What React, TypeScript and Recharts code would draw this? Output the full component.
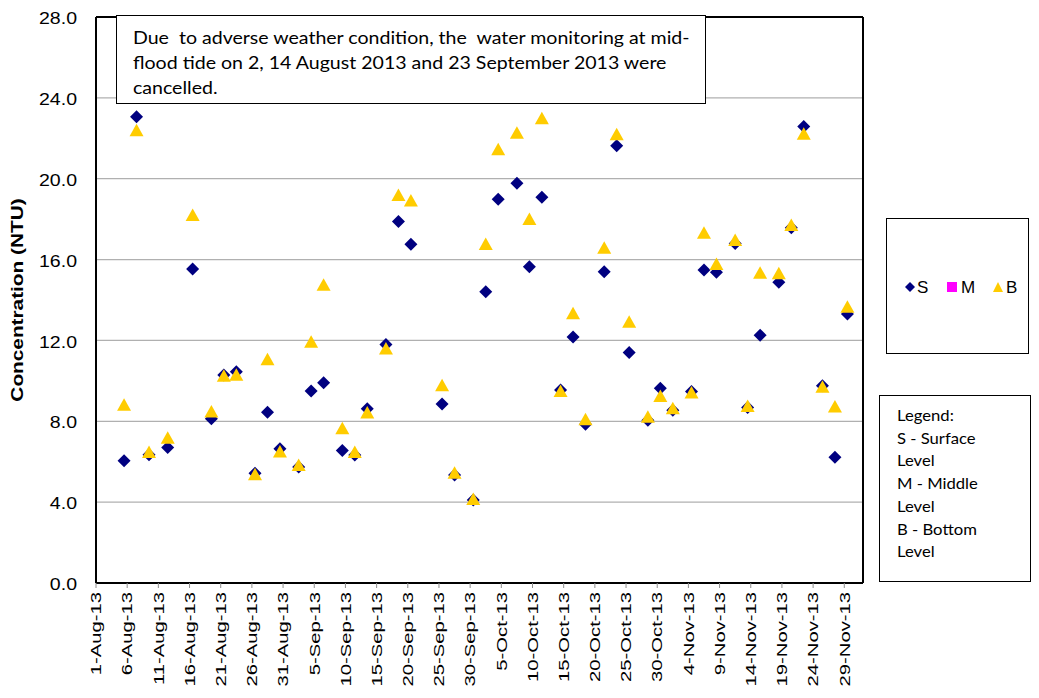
import React from "react";
import {
  CartesianGrid,
  ReferenceLine,
  Scatter,
  ScatterChart,
  XAxis,
  YAxis,
} from "recharts";

// sampling dates (missing days were cancelled)
const sampleDates = [
  "5-Aug-13", "7-Aug-13", "9-Aug-13", "12-Aug-13", "16-Aug-13", "19-Aug-13",
  "21-Aug-13", "23-Aug-13", "26-Aug-13", "28-Aug-13", "30-Aug-13", "2-Sep-13",
  "4-Sep-13", "6-Sep-13", "9-Sep-13", "11-Sep-13", "13-Sep-13", "16-Sep-13",
  "18-Sep-13", "20-Sep-13", "25-Sep-13", "27-Sep-13", "30-Sep-13", "2-Oct-13",
  "4-Oct-13", "7-Oct-13", "9-Oct-13", "11-Oct-13", "14-Oct-13", "16-Oct-13",
  "18-Oct-13", "21-Oct-13", "23-Oct-13", "25-Oct-13", "28-Oct-13", "30-Oct-13",
  "1-Nov-13", "4-Nov-13", "6-Nov-13", "8-Nov-13", "11-Nov-13", "13-Nov-13",
  "15-Nov-13", "18-Nov-13", "20-Nov-13", "22-Nov-13", "25-Nov-13", "27-Nov-13",
  "29-Nov-13",
];

const surface = [
  6.05, 23.07, 6.35, 6.7, 15.53, 8.12, 10.29, 10.45, 5.43, 8.45, 6.64, 5.74,
  9.5, 9.91, 6.56, 6.33, 8.62, 11.8, 17.88, 16.76, 8.86, 5.34, 4.1, 14.41,
  18.98, 19.78, 15.65, 19.08, 9.55, 12.17, 7.85, 15.4, 21.63, 11.4, 8.05, 9.63,
  8.55, 9.47, 15.49, 15.37, 16.8, 8.68, 12.26, 14.88, 17.58, 22.58, 9.76, 6.22,
  13.31,
];

const bottom = [
  8.82, 22.4, 6.48, 7.19, 18.2, 8.48, 10.25, 10.3, 5.38, 11.07, 6.5, 5.84,
  11.94, 14.75, 7.65, 6.48, 8.43, 11.6, 19.2, 18.92, 9.78, 5.46, 4.16, 16.77,
  21.46, 22.28, 18.01, 22.99, 9.5, 13.35, 8.1, 16.58, 22.2, 12.93, 8.23, 9.25,
  8.64, 9.43, 17.33, 15.78, 16.97, 8.76, 15.35, 15.32, 17.71, 22.22, 9.71, 8.73,
  13.67,
];

const tickLabels = [
  "1-Aug-13", "6-Aug-13", "11-Aug-13", "16-Aug-13", "21-Aug-13", "26-Aug-13",
  "31-Aug-13", "5-Sep-13", "10-Sep-13", "15-Sep-13", "20-Sep-13", "25-Sep-13",
  "30-Sep-13", "5-Oct-13", "10-Oct-13", "15-Oct-13", "20-Oct-13", "25-Oct-13",
  "30-Oct-13", "4-Nov-13", "9-Nov-13", "14-Nov-13", "19-Nov-13", "24-Nov-13",
  "29-Nov-13",
];

const yTicks = [0, 4, 8, 12, 16, 20, 24, 28];

const MONTHS = ["Jan", "Feb", "Mar", "Apr", "May", "Jun", "Jul", "Aug", "Sep", "Oct", "Nov", "Dec"];
const START = Date.UTC(2013, 7, 1);
const END_DAY = 123; // axis runs to 2-Dec

function dayOf(label: string) {
  const [d, m] = label.split("-");
  return (Date.UTC(2013, MONTHS.indexOf(m), Number(d)) - START) / 86400000;
}

const tickDays = tickLabels.map(dayOf);
const labelByDay: Record<number, string> = {};
tickLabels.forEach((l, i) => (labelByDay[tickDays[i]] = l));

// Excel puts each point in the middle of its day slot
const sData = sampleDates.map((d, i) => ({ x: dayOf(d) + 0.5, y: surface[i] }));
const bData = sampleDates.map((d, i) => ({ x: dayOf(d) + 0.5, y: bottom[i] }));

const NAVY = "#000080";
const GOLD = "#FFCC00";
const MAGENTA = "#FF00FF";
const ARIAL = "'Liberation Sans', Arial, sans-serif";
const CALIBRI = "Lato, 'Noto Sans', sans-serif";

const DiamondShape = (p: any) => (
  <polygon
    points={`${p.cx},${p.cy - 6.5} ${p.cx + 6.5},${p.cy} ${p.cx},${p.cy + 6.5} ${p.cx - 6.5},${p.cy}`}
    fill={NAVY}
  />
);

const TriangleShape = (p: any) => (
  <polygon
    points={`${p.cx},${p.cy - 6.5} ${p.cx + 7},${p.cy + 6} ${p.cx - 7},${p.cy + 6}`}
    fill={GOLD}
  />
);

const XTick = (p: any) => (
  <text
    transform={`translate(${p.x},${p.y + 2}) rotate(-90) scale(1.35,1)`}
    textAnchor="end"
    dy="0.35em"
    fontSize={15}
    fontFamily={ARIAL}
    fill="#000"
  >
    {labelByDay[p.payload.value]}
  </text>
);

const YTick = (p: any) => (
  <text
    transform={`translate(77,${p.y + 1}) scale(1.15,1)`}
    textAnchor="end"
    dy="0.36em"
    fontSize={17}
    fontFamily={ARIAL}
    fill="#000"
  >
    {p.payload.value.toFixed(1)}
  </text>
);

const YLabel = () => (
  <text
    transform="translate(17,300) rotate(-90) scale(1.3,1)"
    textAnchor="middle"
    dy="0.35em"
    fontSize={16}
    fontWeight="bold"
    fontFamily={ARIAL}
    fill="#000"
  >
    Concentration (NTU)
  </text>
);

export default function App() {
  return (
    <div style={{ position: "absolute", left: 0, top: 0, width: 1039, height: 698, background: "#fff" }}>
      <ScatterChart width={1039} height={698} margin={{ top: 17, right: 176, bottom: 0, left: 0 }}>
        <CartesianGrid vertical={false} stroke="#b0b0b0" strokeWidth={1.2} />
        <XAxis
          type="number"
          dataKey="x"
          domain={[0, END_DAY]}
          ticks={tickDays}
          interval={0}
          height={115}
          tickSize={5}
          tickLine={{ stroke: "#8c8c8c" }}
          axisLine={{ stroke: "#000", strokeWidth: 2 }}
          tick={<XTick />}
        />
        <YAxis
          type="number"
          dataKey="y"
          domain={[0, 28]}
          ticks={yTicks}
          width={96}
          tickLine={false}
          axisLine={{ stroke: "#000", strokeWidth: 2 }}
          tick={<YTick />}
          label={<YLabel />}
        />
        <ReferenceLine y={28} stroke="#000" strokeWidth={2} />
        <ReferenceLine x={END_DAY} stroke="#000" strokeWidth={2} />
        <Scatter name="S" data={sData} shape={DiamondShape} isAnimationActive={false} />
        <Scatter name="B" data={bData} shape={TriangleShape} isAnimationActive={false} />
      </ScatterChart>

      {/* note box */}
      <div
        style={{
          position: "absolute",
          left: 116,
          top: 15,
          width: 590,
          height: 89,
          border: "1.5px solid #000",
          background: "#fff",
          boxSizing: "border-box",
          fontFamily: CALIBRI,
          fontSize: 17,
          lineHeight: "25px",
          padding: "9px 0 0 16px",
          whiteSpace: "pre",
          color: "#000",
        }}
      >
        <div style={{ transform: "scaleX(1.15)", transformOrigin: "left top" }}>
          {"Due  to adverse weather condition, the  water monitoring at mid-\nflood tide on 2, 14 August 2013 and 23 September 2013 were\ncancelled."}
        </div>
      </div>

      {/* series legend */}
      <div
        style={{
          position: "absolute",
          left: 886,
          top: 218,
          width: 143,
          height: 136,
          border: "1.5px solid #000",
          boxSizing: "border-box",
          background: "#fff",
        }}
      >
        <svg width={140} height={133} style={{ display: "block" }}>
          <polygon points="23,63 28,68 23,73 18,68" fill={NAVY} />
          <text x={30} y={74} fontSize={17} fontFamily={ARIAL}>S</text>
          <rect x={60} y={63} width={10} height={10} fill={MAGENTA} />
          <text x={74} y={74} fontSize={17} fontFamily={ARIAL}>M</text>
          <polygon points="111,63 116,73 106,73" fill={GOLD} />
          <text x={119} y={74} fontSize={17} fontFamily={ARIAL}>B</text>
        </svg>
      </div>

      {/* level legend */}
      <div
        style={{
          position: "absolute",
          left: 879,
          top: 395,
          width: 152,
          height: 187,
          border: "1.5px solid #000",
          boxSizing: "border-box",
          background: "#fff",
          fontFamily: CALIBRI,
          fontSize: 16,
          lineHeight: "22.7px",
          padding: "8px 0 0 17px",
          whiteSpace: "pre",
          color: "#000",
        }}
      >
        <div style={{ transform: "scaleX(1.04)", transformOrigin: "left top" }}>
          {"Legend:\nS - Surface\nLevel\nM - Middle\nLevel\nB - Bottom\nLevel"}
        </div>
      </div>
    </div>
  );
}
